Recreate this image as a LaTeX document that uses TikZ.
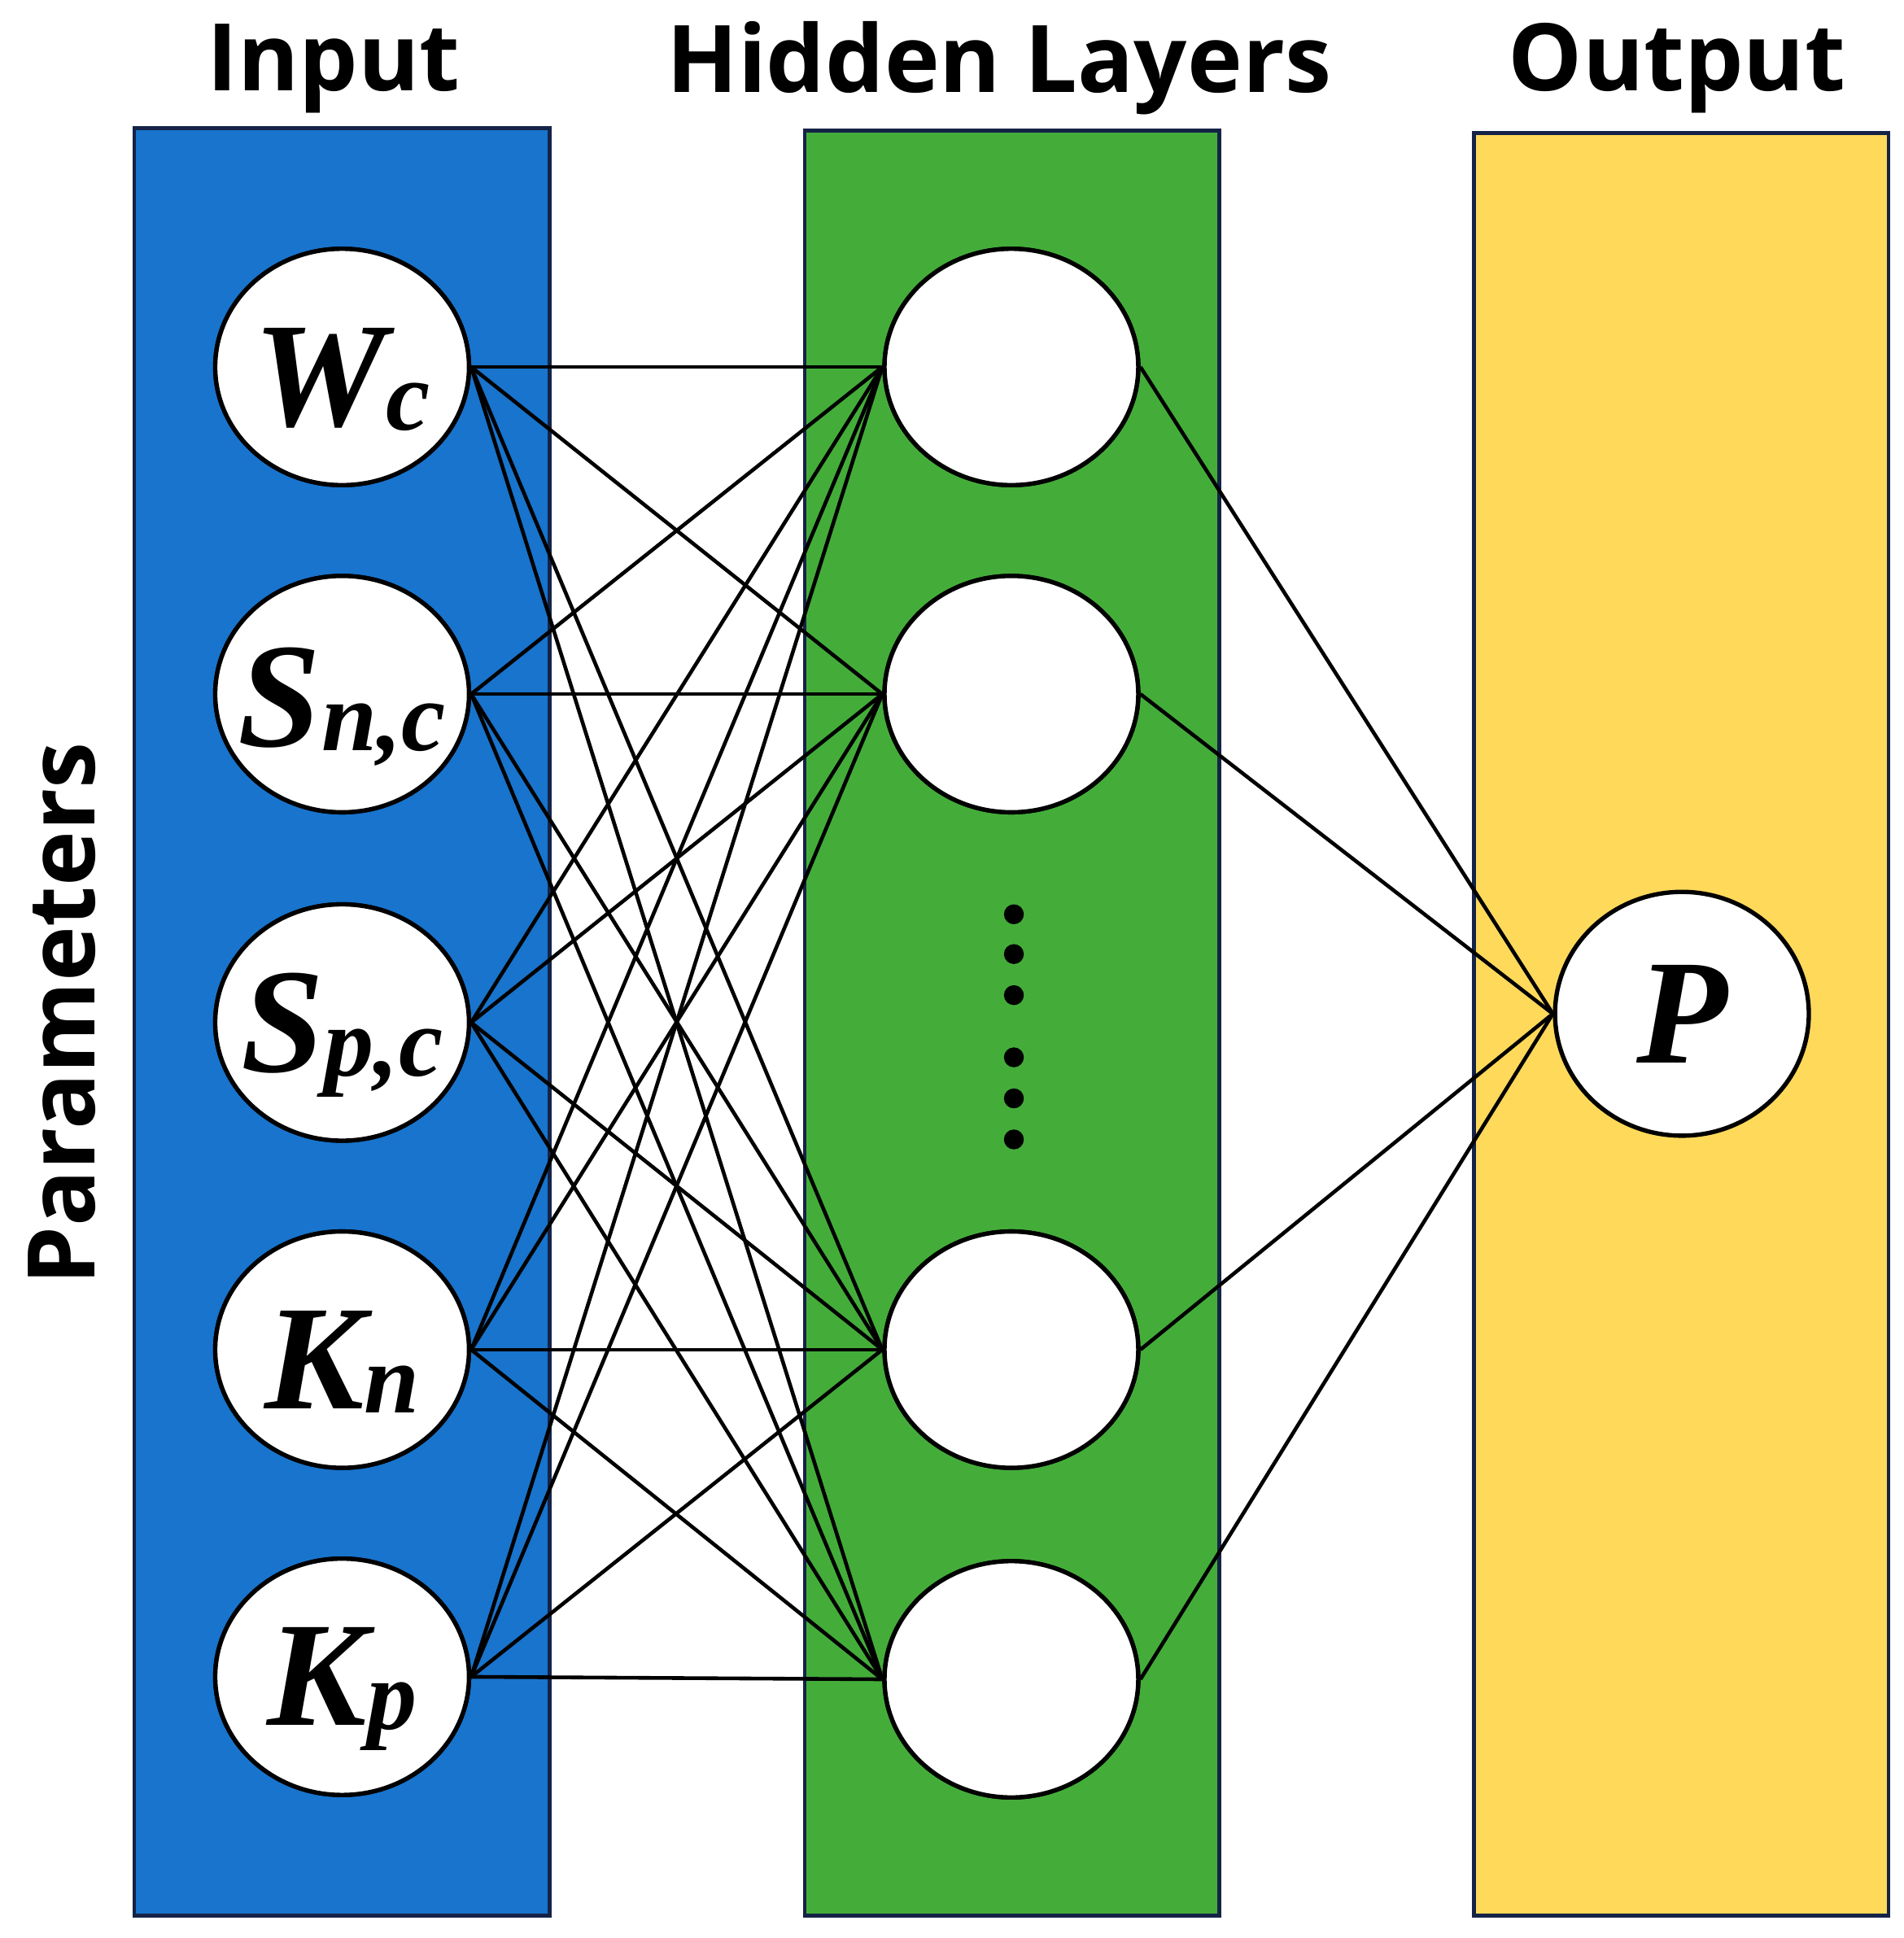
\documentclass[tikz,border=0pt]{standalone}
\usepackage{fontspec}
\setmainfont{Liberation Serif}
\newfontfamily\titlefont{Open Sans}
\usetikzlibrary{shapes.geometric}
\definecolor{cblue}{RGB}{24,116,205}
\definecolor{cgreen}{RGB}{68,173,58}
\definecolor{cyellow}{RGB}{255,217,90}
\definecolor{cnavy}{RGB}{20,35,70}
\newcommand{\lab}[2]{{\fontsize{120}{120}\selectfont\bfseries\itshape #1}\raisebox{-0.35em}{\fontsize{80}{80}\selectfont\bfseries\itshape #2}}
\begin{document}
\begin{tikzpicture}[x=1pt,y=-1pt,
  panel/.style={draw=cnavy,line width=3pt},
  neuron/.style={ellipse,draw=black,fill=white,line width=3.5pt,minimum width=204pt,minimum height=190pt,inner sep=0pt},
  link/.style={line width=3pt},
  title/.style={font=\titlefont\bfseries\fontsize{75}{80}\selectfont}]
\useasboundingbox (0,0) rectangle (1530,1558);
\fill[white] (0,0) rectangle (1530,1558);
\draw[panel,fill=cblue] (108,103) rectangle (442,1540);
\draw[panel,fill=cgreen] (647,105) rectangle (980,1540);
\draw[panel,fill=cyellow] (1185,107) rectangle (1518,1540);
\node[title] (t1) at (268,55) {Input};
\node[title] (t2) at (803,55) {Hidden Layers};
\node[title] (t3) at (1348,55) {Output};
\node[title,rotate=90] (t4) at (50,815) {Parameters};
\foreach \n/\y in {1/295,2/558,3/822,4/1085,5/1348} \node[neuron] (i\n) at (275,\y) {};
\foreach \n/\y in {1/295,2/558,3/1085,4/1350} \node[neuron] (h\n) at (813,\y) {};
\node[neuron,minimum height=196pt] (o) at (1352,815) {\fontsize{120}{120}\selectfont\bfseries\itshape P};
\foreach \i in {1,...,5} \foreach \h in {1,...,4} \draw[link] (i\i.east) -- (h\h.west);
\foreach \h in {1,...,4} \draw[link] (h\h.east) -- (o.west);
\foreach \n/\y in {1/295,2/558,3/822,4/1085,5/1348} \node[neuron] (j\n) at (275,\y) {};
\foreach \n/\y in {1/295,2/558,3/1085,4/1350} \node[neuron] (k\n) at (813,\y) {};
\node[inner sep=0] (l1) at (275,305) {\lab{W}{c}};
\node[inner sep=0] (l2) at (275,568) {\lab{S}{n,c}};
\node[inner sep=0] (l3) at (275,832) {\lab{S}{p,c}};
\node[inner sep=0] (l4) at (275,1095) {\lab{K}{n}};
\node[inner sep=0] (l5) at (275,1358) {\lab{K}{p}};
\foreach \n/\y in {1/735,2/767,3/800,4/850,5/883,6/916} \fill (815,\y) circle (8);
\end{tikzpicture}
\end{document}
